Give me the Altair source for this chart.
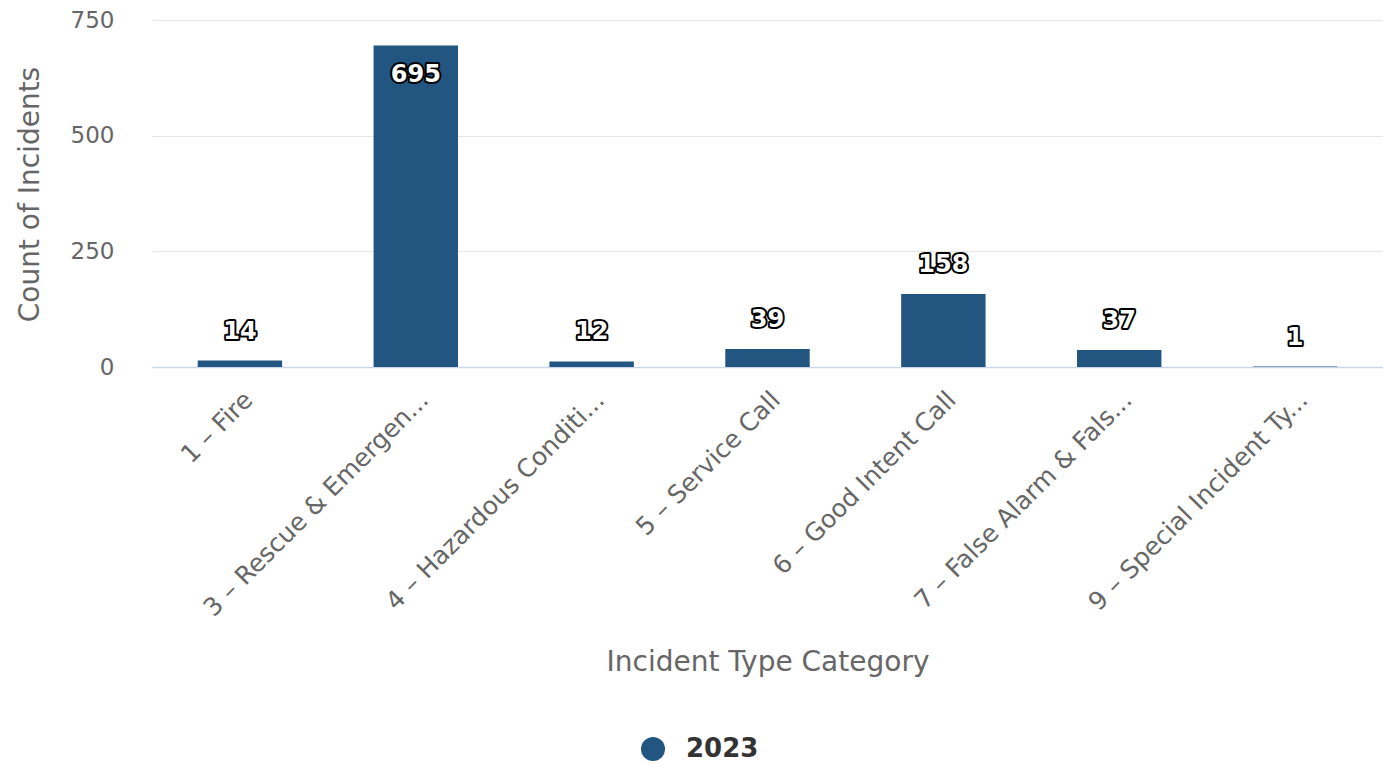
import altair as alt
import pandas as pd

categories = [
    "1 – Fire",
    "3 – Rescue & Emergen...",
    "4 – Hazardous Conditi...",
    "5 – Service Call",
    "6 – Good Intent Call",
    "7 – False Alarm & Fals...",
    "9 – Special Incident Ty...",
]
counts = [14, 695, 12, 39, 158, 37, 1]
series_name = "2023"

df = pd.DataFrame({"category": categories, "count": counts, "year": [series_name] * len(categories)})

FONT = "DejaVu Sans"
BAR = "#225680"

x_enc = alt.X(
    "category:N",
    sort=categories,
    scale=alt.Scale(paddingInner=0.52, paddingOuter=0.26),
    axis=alt.Axis(
        title="Incident Type Category",
        labelAngle=-45,
        labelFontSize=25,
        labelColor="#666666",
        labelFont=FONT,
        labelPadding=20,
        labelLimit=500,
        ticks=False,
        domainColor="#ccd6eb",
        domainWidth=1.5,
        titleFont=FONT,
        titleFontSize=28,
        titleFontWeight="normal",
        titleColor="#666666",
        titleY=295,
        titleBaseline="middle",
    ),
)
y_enc = alt.Y(
    "count:Q",
    scale=alt.Scale(domain=[0, 750], nice=False),
    axis=alt.Axis(
        title="Count of Incidents",
        values=[0, 250, 500, 750],
        labelFontSize=23,
        labelColor="#666666",
        labelFont=FONT,
        labelPadding=38,
        ticks=False,
        domain=False,
        gridColor="#e6e6e6",
        titleFont=FONT,
        titleFontSize=28,
        titleFontWeight="normal",
        titleColor="#666666",
        titleX=-122,
        titleY=174,
        titleAngle=-90,
        titleBaseline="middle",
    ),
)

base = alt.Chart(df)

bars = base.mark_bar(color=BAR).encode(
    x=x_enc,
    y=y_enc,
    color=alt.Color(
        "year:N",
        scale=alt.Scale(range=[BAR]),
        legend=alt.Legend(
            title=None,
            orient="none",
            legendX=488,
            legendY=716,
            symbolType="circle",
            symbolSize=576,
            labelFontSize=26,
            labelFontWeight="bold",
            labelColor="#333333",
            labelFont=FONT,
            labelOffset=20,
            symbolStrokeWidth=0,
        ),
    ),
)

def labels(filter_expr, dy):
    outline = base.mark_text(
        font=FONT, fontSize=24, fontWeight="bold", dy=dy,
        color="#000000", stroke="#000000", strokeWidth=4, strokeJoin="round",
    ).encode(x=alt.X("category:N", sort=categories), y="count:Q", text="count:Q").transform_filter(filter_expr)
    fill = base.mark_text(
        font=FONT, fontSize=24, fontWeight="bold", dy=dy, color="#ffffff",
    ).encode(x=alt.X("category:N", sort=categories), y="count:Q", text="count:Q").transform_filter(filter_expr)
    return outline + fill

above = labels("datum.count < 600", -29)
inside = labels("datum.count >= 600", 30)

chart = alt.layer(bars, above, inside).properties(
    width=1231,
    height=347,
    padding={"left": 152, "top": 20, "right": 0, "bottom": 398},
    autosize=alt.AutoSizeParams(type="none"),
    background="#ffffff",
).configure_view(stroke=None)

chart.save("out.html", embed_options={"renderer": "svg", "actions": False})
